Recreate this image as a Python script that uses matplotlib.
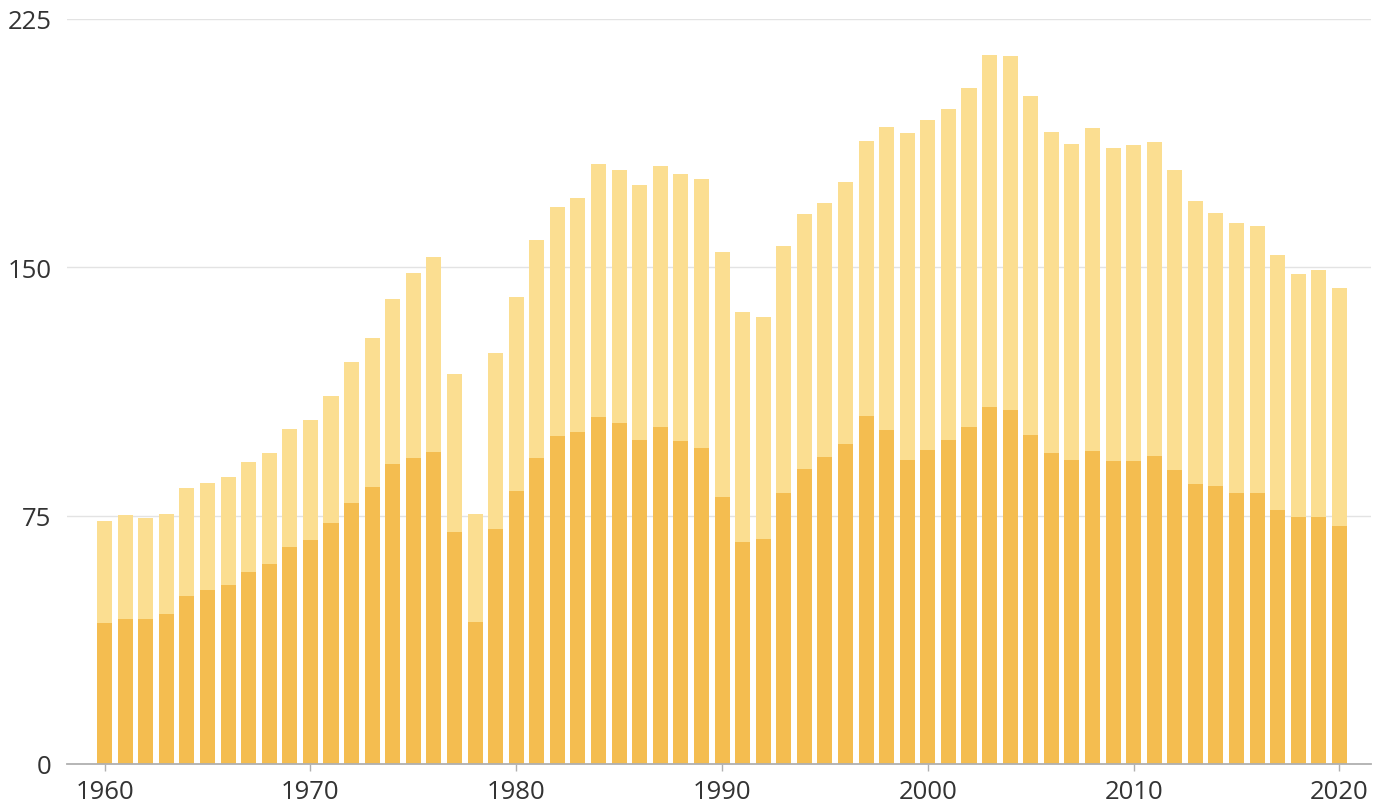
import numpy as np
import matplotlib
matplotlib.use("Agg")
import matplotlib.pyplot as plt

plt.rcParams['font.family'] = ['Open Sans', 'DejaVu Sans']

# Year range and the two stacked series (lower = dark part, total = top of the light part)
years = list(range(1960, 2021))

total = [73.3, 75.3, 74.4, 75.5, 83.2, 85.0, 86.6, 91.2, 93.8, 101.2,
         103.9, 111.1, 121.3, 128.7, 140.3, 148.4, 153.1, 117.8, 75.6, 124.1,
         141.1, 158.2, 168.2, 171.0, 181.1, 179.5, 175.0, 180.6, 178.1, 176.7,
         154.7, 136.4, 135.1, 156.4, 166.2, 169.5, 175.7, 188.0, 192.5, 190.6,
         194.4, 197.7, 204.3, 214.2, 213.9, 201.8, 191.0, 187.2, 192.1, 185.9,
         187.0, 187.8, 179.4, 169.9, 166.3, 163.3, 162.6, 153.6, 148.1, 149.1,
         143.9]

lower = [42.5, 43.9, 43.9, 45.2, 50.7, 52.6, 54.0, 58.1, 60.4, 65.6,
         67.5, 72.8, 78.9, 83.6, 90.5, 92.4, 94.1, 70.1, 43.0, 71.1,
         82.4, 92.4, 99.0, 100.3, 104.7, 103.1, 97.8, 101.7, 97.6, 95.4,
         80.5, 67.0, 67.9, 81.8, 89.1, 92.7, 96.7, 105.0, 100.9, 91.8,
         94.8, 97.9, 101.8, 107.8, 107.0, 99.3, 94.0, 91.8, 94.5, 91.6,
         91.5, 92.9, 88.7, 84.7, 83.9, 81.9, 81.8, 76.6, 74.5, 74.7,
         72.0]

upper = np.array(total) - np.array(lower)

y_ticks = [0, 75, 150, 225]
x_ticks = [1960, 1970, 1980, 1990, 2000, 2010, 2020]

fig = plt.figure(figsize=(13.89, 8.12), dpi=100)
ax = fig.add_axes([0.0482, 0.0579, 0.9388, 0.9175])

ax.bar(years, lower, width=0.73, color='#F4BD50', zorder=2)
ax.bar(years, upper, width=0.73, bottom=lower, color='#FBDE91', zorder=2)

ax.set_xlim(1958.17, 2021.53)
ax.set_ylim(0, 225)
ax.set_yticks(y_ticks)
ax.set_xticks(x_ticks)

ax.grid(axis='y', color='#e3e3e3', linewidth=1, zorder=0)
for s in ['top', 'right', 'left']:
    ax.spines[s].set_visible(False)
ax.spines['bottom'].set_color('#b0b0b0')
ax.spines['bottom'].set_linewidth(1.3)
ax.spines['bottom'].set_zorder(3)

ax.tick_params(axis='y', length=0, pad=11, labelsize=18.5, labelcolor='#333333')
ax.tick_params(axis='x', length=5, width=1, color='#b0b0b0', pad=6,
               labelsize=18.5, labelcolor='#333333')

fig.savefig("out.png", dpi=100)
